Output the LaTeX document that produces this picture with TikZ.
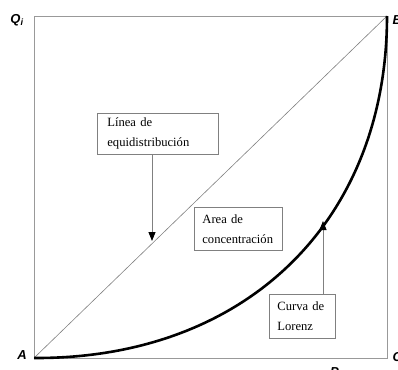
\documentclass[tikz,border=0pt]{standalone}
\usepackage{fontspec}
\setmainfont{Liberation Serif}
\newfontfamily\labelfont{Liberation Sans}
\usetikzlibrary{arrows.meta}

\begin{document}
\begin{tikzpicture}[x=1pt,y=-1pt,
		frame/.style={draw=gray!80,line width=0.9pt},
		textbox/.style={draw=gray,line width=0.8pt,align=left,anchor=north west,
			inner xsep=10pt,inner ysep=0pt,font=\fontsize{12.6}{20}\selectfont},
		pointer/.style={draw=gray,line width=0.8pt,-{Triangle[length=9pt,width=7pt,black]}},
		corner/.style={font=\labelfont\bfseries\itshape\fontsize{13}{13}\selectfont}]
		\useasboundingbox (0,0) rectangle (398,369);
		% square
		\coordinate (A) at (34,358);
		\coordinate (B) at (387,16);
		\coordinate (C) at (387,358);
		\coordinate (D) at (34,16);
		\draw[frame] (A) rectangle (B);
		\draw[gray,line width=0.6pt] (A) -- (B);
		\draw[line width=2.6pt] (A) .. controls (246,359) and (387,221) .. (B);
		% corner labels
		\node[corner] (qi) at (17,20) {Q\textsubscript{i}};
		\node[corner,anchor=west] (bl) at (389,20) {B};
		\node[corner] (al) at (22,355) {A};
		\node[corner,anchor=west] (cl) at (389,357) {C};
		\node[corner] (pi) at (336,373) {P\textsubscript{i}};
		% boxes
		\node[textbox,minimum width=121pt,minimum height=41pt,text width=101pt]
			(equi) at (97,113) {Línea de\\equidistribución};
		\node[textbox,minimum width=88pt,minimum height=43pt,text width=72pt,inner xsep=8pt]
			(area) at (194,207) {Area de\\concentración};
		\node[textbox,minimum width=66pt,minimum height=44pt,text width=50pt,inner xsep=8pt]
			(lorenz) at (269,294) {Curva de\\Lorenz};
		% pointers
		\coordinate (eqtip) at (152,241);
		\coordinate (lztip) at (323,221);
		\draw[pointer] (eqtip |- equi.south) -- (eqtip);
		\draw[pointer] (lztip |- lorenz.north) -- (lztip);
	\end{tikzpicture}
\end{document}
